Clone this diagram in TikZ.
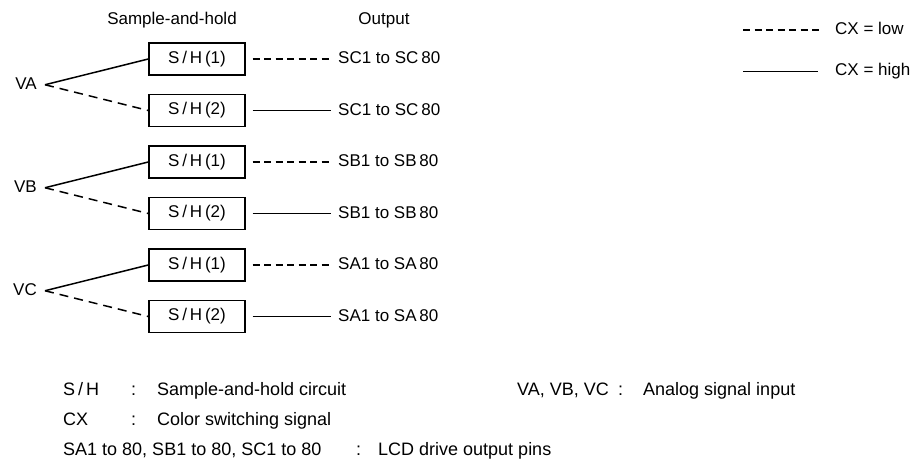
\documentclass[tikz,border=0pt]{standalone}
\usepackage{fontspec}
\setmainfont{Liberation Sans}
\usetikzlibrary{positioning}

\tikzset{
	shbox/.style={draw, line width=1.4pt, minimum width=96pt, minimum height=32pt, inner sep=0pt, font=\fontsize{17}{20}\selectfont},
	lbl/.style={inner sep=0pt, text height=12.5pt, text depth=3.5pt, font=\fontsize{17}{20}\selectfont},
	leg/.style={inner sep=0pt, anchor=west, text height=13pt, text depth=4pt, font=\fontsize{18}{21}\selectfont},
	lowsig/.style={line width=1.2pt, dash pattern=on 7pt off 4.5pt},
	highsig/.style={line width=1pt},
	lowin/.style={line width=1.5pt, dash pattern=on 9pt off 6pt},
	highin/.style={line width=1.5pt},
}

\begin{document}
\begin{tikzpicture}[x=1pt,y=-1pt]
	\useasboundingbox (0,0) rectangle (918,469);
	
	% headings
	\node[lbl] (hsh) at (172,20) {Sample-and-hold};
	\node[lbl] (hout) at (384,20) {Output};
	
	% sample-and-hold circuits
	\node[shbox] (sc1) at (197,59) {S\,/\,H\,(1)};
	\node[shbox] (sc2) at (197,110.5) {S\,/\,H\,(2)};
	\node[shbox] (sb1) at (197,162) {S\,/\,H\,(1)};
	\node[shbox] (sb2) at (197,213.5) {S\,/\,H\,(2)};
	\node[shbox] (sa1) at (197,265) {S\,/\,H\,(1)};
	\node[shbox] (sa2) at (197,316.5) {S\,/\,H\,(2)};
	
	% analog inputs
	\coordinate (pA) at (45,84.75);
	\coordinate (pB) at (45,187.75);
	\coordinate (pC) at (45,290.75);
	\node[lbl, left=8pt of pA] (VA) {VA};
	\node[lbl, left=8pt of pB] (VB) {VB};
	\node[lbl, left=8pt of pC] (VC) {VC};
	
	\draw[highin] (pA) -- (sc1.west);
	\draw[lowin] (pA) -- (sc2.west);
	\draw[highin] (pB) -- (sb1.west);
	\draw[lowin] (pB) -- (sb2.west);
	\draw[highin] (pC) -- (sa1.west);
	\draw[lowin] (pC) -- (sa2.west);
	
	% outputs
	\node[lbl, anchor=west] (oc1) at (338,59) {SC1 to SC\,80};
	\node[lbl, anchor=west] (oc2) at (338,110.5) {SC1 to SC\,80};
	\node[lbl, anchor=west] (ob1) at (338,162) {SB1 to SB\,80};
	\node[lbl, anchor=west] (ob2) at (338,213.5) {SB1 to SB\,80};
	\node[lbl, anchor=west] (oa1) at (338,265) {SA1 to SA\,80};
	\node[lbl, anchor=west] (oa2) at (338,316.5) {SA1 to SA\,80};
	
	\draw[lowsig] ([xshift=7pt]sc1.east) -- ([xshift=-7pt]oc1.west);
	\draw[highsig] ([xshift=7pt]sc2.east) -- ([xshift=-7pt]oc2.west);
	\draw[lowsig] ([xshift=7pt]sb1.east) -- ([xshift=-7pt]ob1.west);
	\draw[highsig] ([xshift=7pt]sb2.east) -- ([xshift=-7pt]ob2.west);
	\draw[lowsig] ([xshift=7pt]sa1.east) -- ([xshift=-7pt]oa1.west);
	\draw[highsig] ([xshift=7pt]sa2.east) -- ([xshift=-7pt]oa2.west);
	
	% line key
	\coordinate (klow) at (743,30);
	\coordinate (khigh) at (743,71);
	\node[lbl, anchor=west] (tlow) at (835,30) {CX = low};
	\node[lbl, anchor=west] (thigh) at (835,71) {CX = high};
	\draw[lowsig] (klow) -- ([xshift=-12pt]tlow.west);
	\draw[highsig] (khigh) -- ([xshift=-17pt]thigh.west);
	
	% abbreviations
	\node[leg] (ash) at (63,391) {S\,/\,H};
	\node[leg] (csh) at (131,391) {:};
	\node[leg] (dsh) at (157,391) {Sample-and-hold circuit};
	\node[leg] (av) at (517,391) {VA, VB, VC};
	\node[leg] (cv) at (618,391) {:};
	\node[leg] (dv) at (643,391) {Analog signal input};
	\node[leg] (acx) at (63,421) {CX};
	\node[leg] (ccx) at (131,421) {:};
	\node[leg] (dcx) at (157,421) {Color switching signal};
	\node[leg] (apin) at (63,451) {SA1 to 80, SB1 to 80, SC1 to 80};
	\node[leg] (cpin) at (356,451) {:};
	\node[leg] (dpin) at (378,451) {LCD drive output pins};
	
\end{tikzpicture}
\end{document}
